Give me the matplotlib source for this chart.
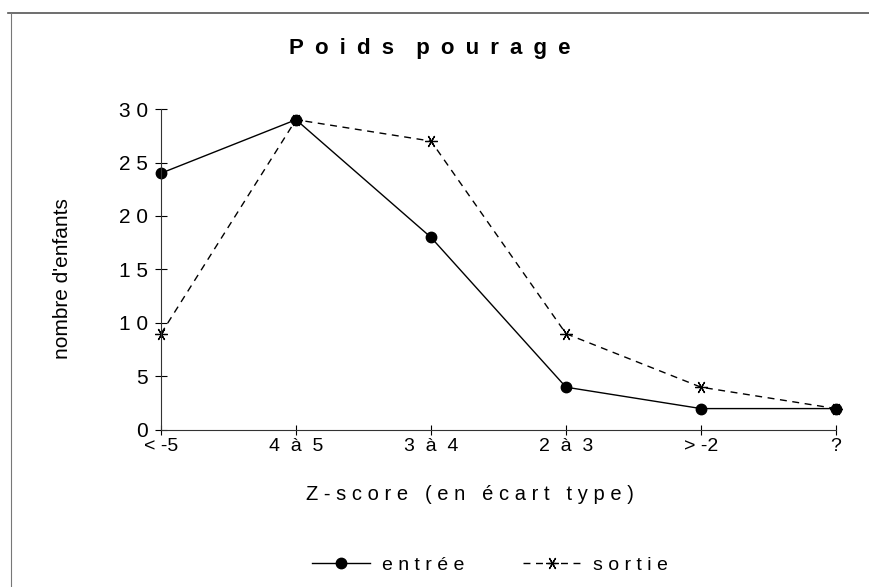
import matplotlib
matplotlib.use("Agg")
import matplotlib.pyplot as plt
from matplotlib.lines import Line2D
from matplotlib.ticker import FuncFormatter

# classes de Z-score
categories = ["< -5", "4 à 5", "3 à 4", "2 à 3", "> -2", "?"]
entree = [24, 29, 18, 4, 2, 2]
sortie = [9, 29, 27, 9, 4, 2]
yticks = [0, 5, 10, 15, 20, 25, 30]


def espace(txt, sep=" "):
    # texte espacé comme sur l'original
    return sep.join(txt)


plt.rcParams['font.family'] = ['Liberation Sans', 'DejaVu Sans']

fig = plt.figure(figsize=(8.69, 5.87), dpi=100)
ax = fig.add_axes([0.1853, 0.2675, 0.962 - 0.1853, 0.8143 - 0.2675])

x = list(range(len(categories)))
ax.plot(x, entree, color='black', lw=1.0, marker='o', markersize=7.5,
        label=espace("entrée"), clip_on=False)
ax.plot(x, sortie, color='black', lw=1.0, ls=(0, (5, 4)), marker=(6, 2, 30),
        markersize=9, markeredgewidth=0.9, label=espace("sortie"), clip_on=False)

ax.set_xlim(0, len(categories) - 1)
ax.set_ylim(0, 30)
ax.set_xticks(x)
ax.set_xticklabels([c.replace(" ", "  ") if "à" in c else c for c in categories],
                   fontsize=14)
ax.set_yticks(yticks)
ax.yaxis.set_major_formatter(FuncFormatter(lambda v, p: espace(str(int(v)))))
ax.tick_params(axis='y', labelsize=15, direction='inout', length=9, width=0.8, pad=5)
ax.tick_params(axis='x', direction='inout', length=7, width=0.8, pad=2)

for s in ['top', 'right']:
    ax.spines[s].set_visible(False)
for s in ['left', 'bottom']:
    ax.spines[s].set_linewidth(0.8)
    ax.spines[s].set_color('#333333')

sep = "\u2002"
fig.text(0.494, 0.918, espace("Poids", sep) + sep * 2 + espace("pour", sep) + sep + espace("age", sep),
         ha='center', va='center', fontsize=16, fontweight='bold')
fig.text(0.541, 0.157, espace("Z-score") + "   " + "( e n   é c a r t   t y p e )",
         ha='center', va='center', fontsize=14.5)
fig.text(0.072, 0.526, "nombre d'enfants", rotation=90, ha='center', va='center',
         fontsize=15)

ax.legend(loc='center', bbox_to_anchor=(0.487, -0.42), ncol=2, frameon=False,
          fontsize=14, handlelength=3.0, columnspacing=3.0, handletextpad=0.6)

# bordure du scan
fig.add_artist(Line2D([0.009, 1.0], [0.978, 0.978], color='#555555', lw=1.2))
fig.add_artist(Line2D([0.013, 0.013], [0.0, 0.978], color='#777777', lw=0.8))

fig.savefig("out.png", dpi=100)
